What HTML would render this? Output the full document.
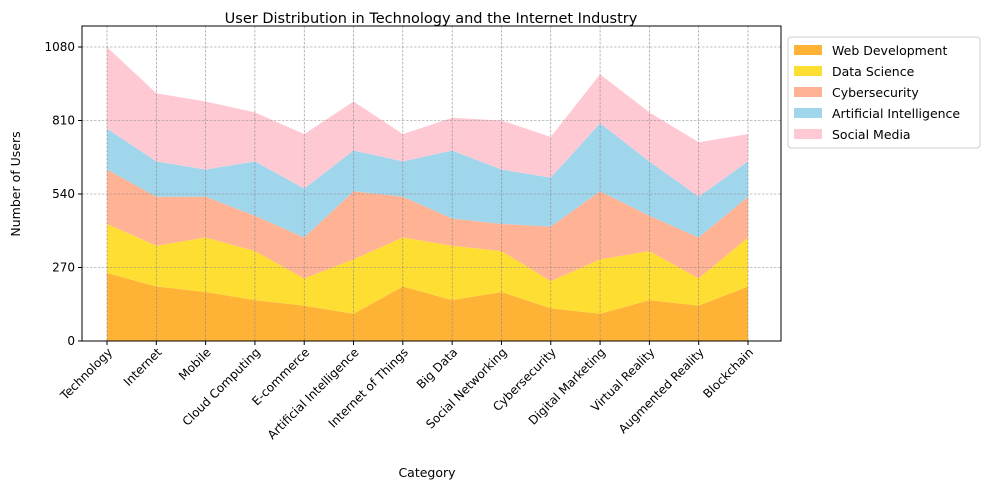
<!DOCTYPE html>
<html><head><meta charset="utf-8"><style>
body{margin:0;background:#fff;font-family:"Liberation Sans","DejaVu Sans",sans-serif}
svg text{font-family:"DejaVu Sans","Liberation Sans",sans-serif}
</style></head><body>
<svg id="c" width="989" height="490" xmlns="http://www.w3.org/2000/svg"></svg>
<script>
const categories=["Technology","Internet","Mobile","Cloud Computing","E-commerce","Artificial Intelligence","Internet of Things","Big Data","Social Networking","Cybersecurity","Digital Marketing","Virtual Reality","Augmented Reality","Blockchain"];
const seriesNames=["Web Development","Data Science","Cybersecurity","Artificial Intelligence","Social Media"];
const webDev=[250,200,180,150,130,100,200,150,180,120,100,150,130,200];
const dataSci=[180,150,200,180,100,200,180,200,150,100,200,180,100,180];
const cyberSec=[200,180,150,130,150,250,150,100,100,200,250,130,150,150];
const artInt=[150,130,100,200,180,150,130,250,200,180,250,200,150,130];
const socialMedia=[300,250,250,180,200,180,100,120,180,150,180,180,200,100];
const yTicks=[0,270,540,810,1080];
const colors=["#ffb336","#ffde33","#ffb394","#a0d6ec","#ffc9d4"];
const series=[webDev,dataSci,cyberSec,artInt,socialMedia];
const NS="http://www.w3.org/2000/svg",svg=document.getElementById('c');
const L=82,R=781,T=26,B=341;
const x=i=>107+i*(748-107)/(categories.length-1);
const y=v=>B-v*(B-47)/1080;
function mk(t,a,p){const e=document.createElementNS(NS,t);for(const k in a)e.setAttribute(k,a[k]);(p||svg).appendChild(e);return e;}
let cum=categories.map(()=>0);
series.forEach((s,si)=>{
  const top=cum.map((c,i)=>c+s[i]);
  let d="M"+categories.map((_,i)=>x(i)+","+y(top[i])).join(" L");
  for(let i=categories.length-1;i>=0;i--)d+=" L"+x(i)+","+y(cum[i]);
  const p=mk('path',{d:d+"Z",fill:colors[si],stroke:"none"});
  
  
  cum=top;
});
yTicks.forEach(v=>{mk('line',{x1:L,x2:R,y1:y(v),y2:y(v),stroke:"#888","stroke-width":0.6,"stroke-dasharray":"2.5,1.5"});});
categories.forEach((_,i)=>{mk('line',{x1:x(i),x2:x(i),y1:T,y2:B,stroke:"#888","stroke-width":0.6,"stroke-dasharray":"2.5,1.5"});});
const ax=mk('rect',{x:L,y:T,width:R-L,height:B-T,fill:"none",stroke:"#000","stroke-width":1});

yTicks.forEach(v=>{mk('line',{x1:L-4,x2:L,y1:y(v),y2:y(v),stroke:"#000"});
  const t=mk('text',{x:L-7,y:y(v)+4,"text-anchor":"end","font-size":12});t.textContent=v;
  });
categories.forEach((c,i)=>{mk('line',{x1:x(i),x2:x(i),y1:B,y2:B+4,stroke:"#000"});
  const t=mk('text',{x:x(i)+6,y:B+12,"text-anchor":"end","font-size":12,transform:`rotate(-45 ${x(i)+6} ${B+12})`});t.textContent=c;
  });
let t=mk('text',{x:431,y:23,"text-anchor":"middle","font-size":14.5});t.textContent="User Distribution in Technology and the Internet Industry";

t=mk('text',{x:427,y:477,"text-anchor":"middle","font-size":12.5});t.textContent="Category";

t=mk('text',{x:20,y:184,"text-anchor":"middle","font-size":12.5,transform:"rotate(-90 20 184)"});t.textContent="Number of Users";

const lg=mk('g',{});
mk('rect',{x:788,y:37,width:192,height:111,rx:3,fill:"#fff",stroke:"#ccc"},lg);
seriesNames.forEach((n,i)=>{const g=mk('g',{},lg);
  mk('rect',{x:794,y:45+i*21,width:28,height:10,fill:colors[i]},g);
  const tt=mk('text',{x:832,y:55+i*21,"font-size":12.5},g);tt.textContent=n;});
</script></body></html>
